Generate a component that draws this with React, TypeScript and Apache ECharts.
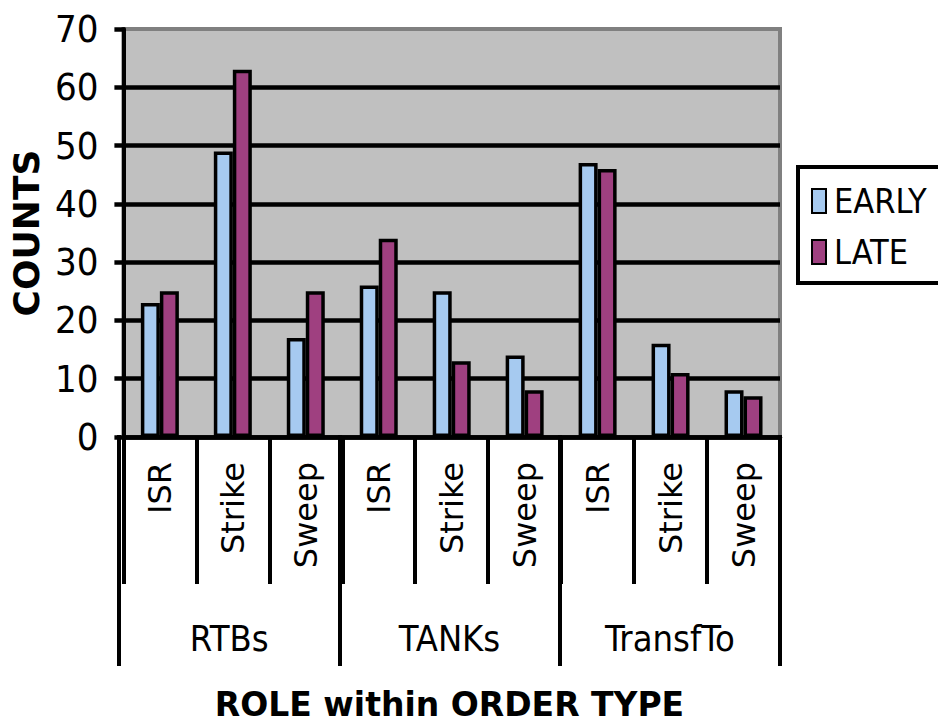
import React, { useEffect, useRef } from "react";
import * as echarts from "echarts";

// Roles inside each order type, in drawing order
const roles = ["ISR", "Strike", "Sweep", "ISR", "Strike", "Sweep", "ISR", "Strike", "Sweep"];
// Order types, each spanning three roles
const orderTypes = ["RTBs", "TANKs", "TransfTo"];
const seriesNames = ["EARLY", "LATE"];
const earlyCounts = [23, 49, 17, 26, 25, 14, 47, 16, 8];
const lateCounts = [25, 63, 25, 34, 13, 8, 46, 11, 7];
const countTicks = [0, 10, 20, 30, 40, 50, 60, 70];

const NARROW = "'Liberation Sans Narrow', 'DejaVu Sans Condensed', 'Liberation Sans', sans-serif";
const WIDE = "'DejaVu Sans', 'Liberation Sans', sans-serif";
const BLACK = "#000000";

const gridBox = { left: 119, right: 158, top: 29, bottom: 289 };

export default function App() {
  const ref = useRef<HTMLDivElement>(null);

  useEffect(() => {
    if (!ref.current) return;
    const chart = echarts.init(ref.current, undefined, { renderer: "svg" });

    const option = {
      animation: false,
      backgroundColor: "#ffffff",
      grid: [
        {
          ...gridBox,
          show: true,
          backgroundColor: "#C0C0C0",
          borderColor: "#808080",
          borderWidth: 4,
        },
        // second grid carries the order-type axis under the role axis
        { ...gridBox, show: false },
      ],
      legend: {
        orient: "vertical",
        left: 798,
        top: 167,
        data: seriesNames,
        icon: "rect",
        itemWidth: 14,
        itemHeight: 24,
        itemGap: 17,
        padding: [17, 24, 14, 13],
        borderColor: BLACK,
        borderWidth: 4,
        backgroundColor: "#ffffff",
        textStyle: { fontFamily: NARROW, fontSize: 34, color: BLACK, padding: [0, 0, 0, 3] },
      },
      xAxis: [
        {
          type: "category",
          gridIndex: 0,
          data: roles,
          position: "bottom",
          axisLine: { show: true, onZero: false, lineStyle: { color: BLACK, width: 4.5 } },
          axisTick: { show: true, interval: 0, length: 147, lineStyle: { color: BLACK, width: 4 } },
          axisLabel: {
            interval: 0,
            rotate: 90,
            margin: 25,
            fontFamily: WIDE,
            fontSize: 32,
            color: BLACK,
          },
          splitLine: { show: false },
        },
        {
          type: "category",
          gridIndex: 1,
          data: orderTypes,
          position: "bottom",
          axisLine: { show: false },
          axisTick: { show: true, interval: 0, length: 231, lineStyle: { color: BLACK, width: 4 } },
          axisLabel: { interval: 0, margin: 185, fontFamily: NARROW, fontSize: 36, color: BLACK },
          splitLine: { show: false },
          name: "ROLE within ORDER TYPE",
          nameLocation: "middle",
          nameGap: 253,
          nameTextStyle: { fontFamily: WIDE, fontWeight: "bold", fontSize: 33, color: BLACK },
        },
      ],
      yAxis: [
        {
          type: "value",
          gridIndex: 0,
          min: countTicks[0],
          max: countTicks[countTicks.length - 1],
          interval: countTicks[1] - countTicks[0],
          axisLine: { show: true, lineStyle: { color: BLACK, width: 4 } },
          axisTick: { show: true, length: 9, lineStyle: { color: BLACK, width: 4.5 } },
          axisLabel: { margin: 25, fontFamily: NARROW, fontSize: 38, color: BLACK },
          splitLine: { show: true, showMaxLine: false, lineStyle: { color: BLACK, width: 4.5 } },
          name: "COUNTS",
          nameLocation: "middle",
          nameRotate: 90,
          nameGap: 79,
          nameTextStyle: { fontFamily: WIDE, fontWeight: "bold", fontSize: 36, color: BLACK },
        },
        { type: "value", gridIndex: 1, show: false, min: 0, max: 1 },
      ],
      series: [
        {
          name: seriesNames[0],
          type: "bar",
          xAxisIndex: 0,
          yAxisIndex: 0,
          data: earlyCounts,
          barWidth: 19,
          barGap: "0%",
          itemStyle: { color: "#A6CAF0", borderColor: BLACK, borderWidth: 3.5 },
        },
        {
          name: seriesNames[1],
          type: "bar",
          xAxisIndex: 0,
          yAxisIndex: 0,
          data: lateCounts,
          barWidth: 19,
          barGap: "0%",
          itemStyle: { color: "#9F4080", borderColor: BLACK, borderWidth: 3.5 },
        },
      ],
    };

    chart.setOption(option);
    return () => chart.dispose();
  }, []);

  return (
    <div
      style={{ position: "absolute", left: 0, top: 0, width: 938, height: 726, overflow: "hidden", background: "#ffffff" }}
    >
      <div ref={ref} style={{ width: 938, height: 726 }} />
    </div>
  );
}
